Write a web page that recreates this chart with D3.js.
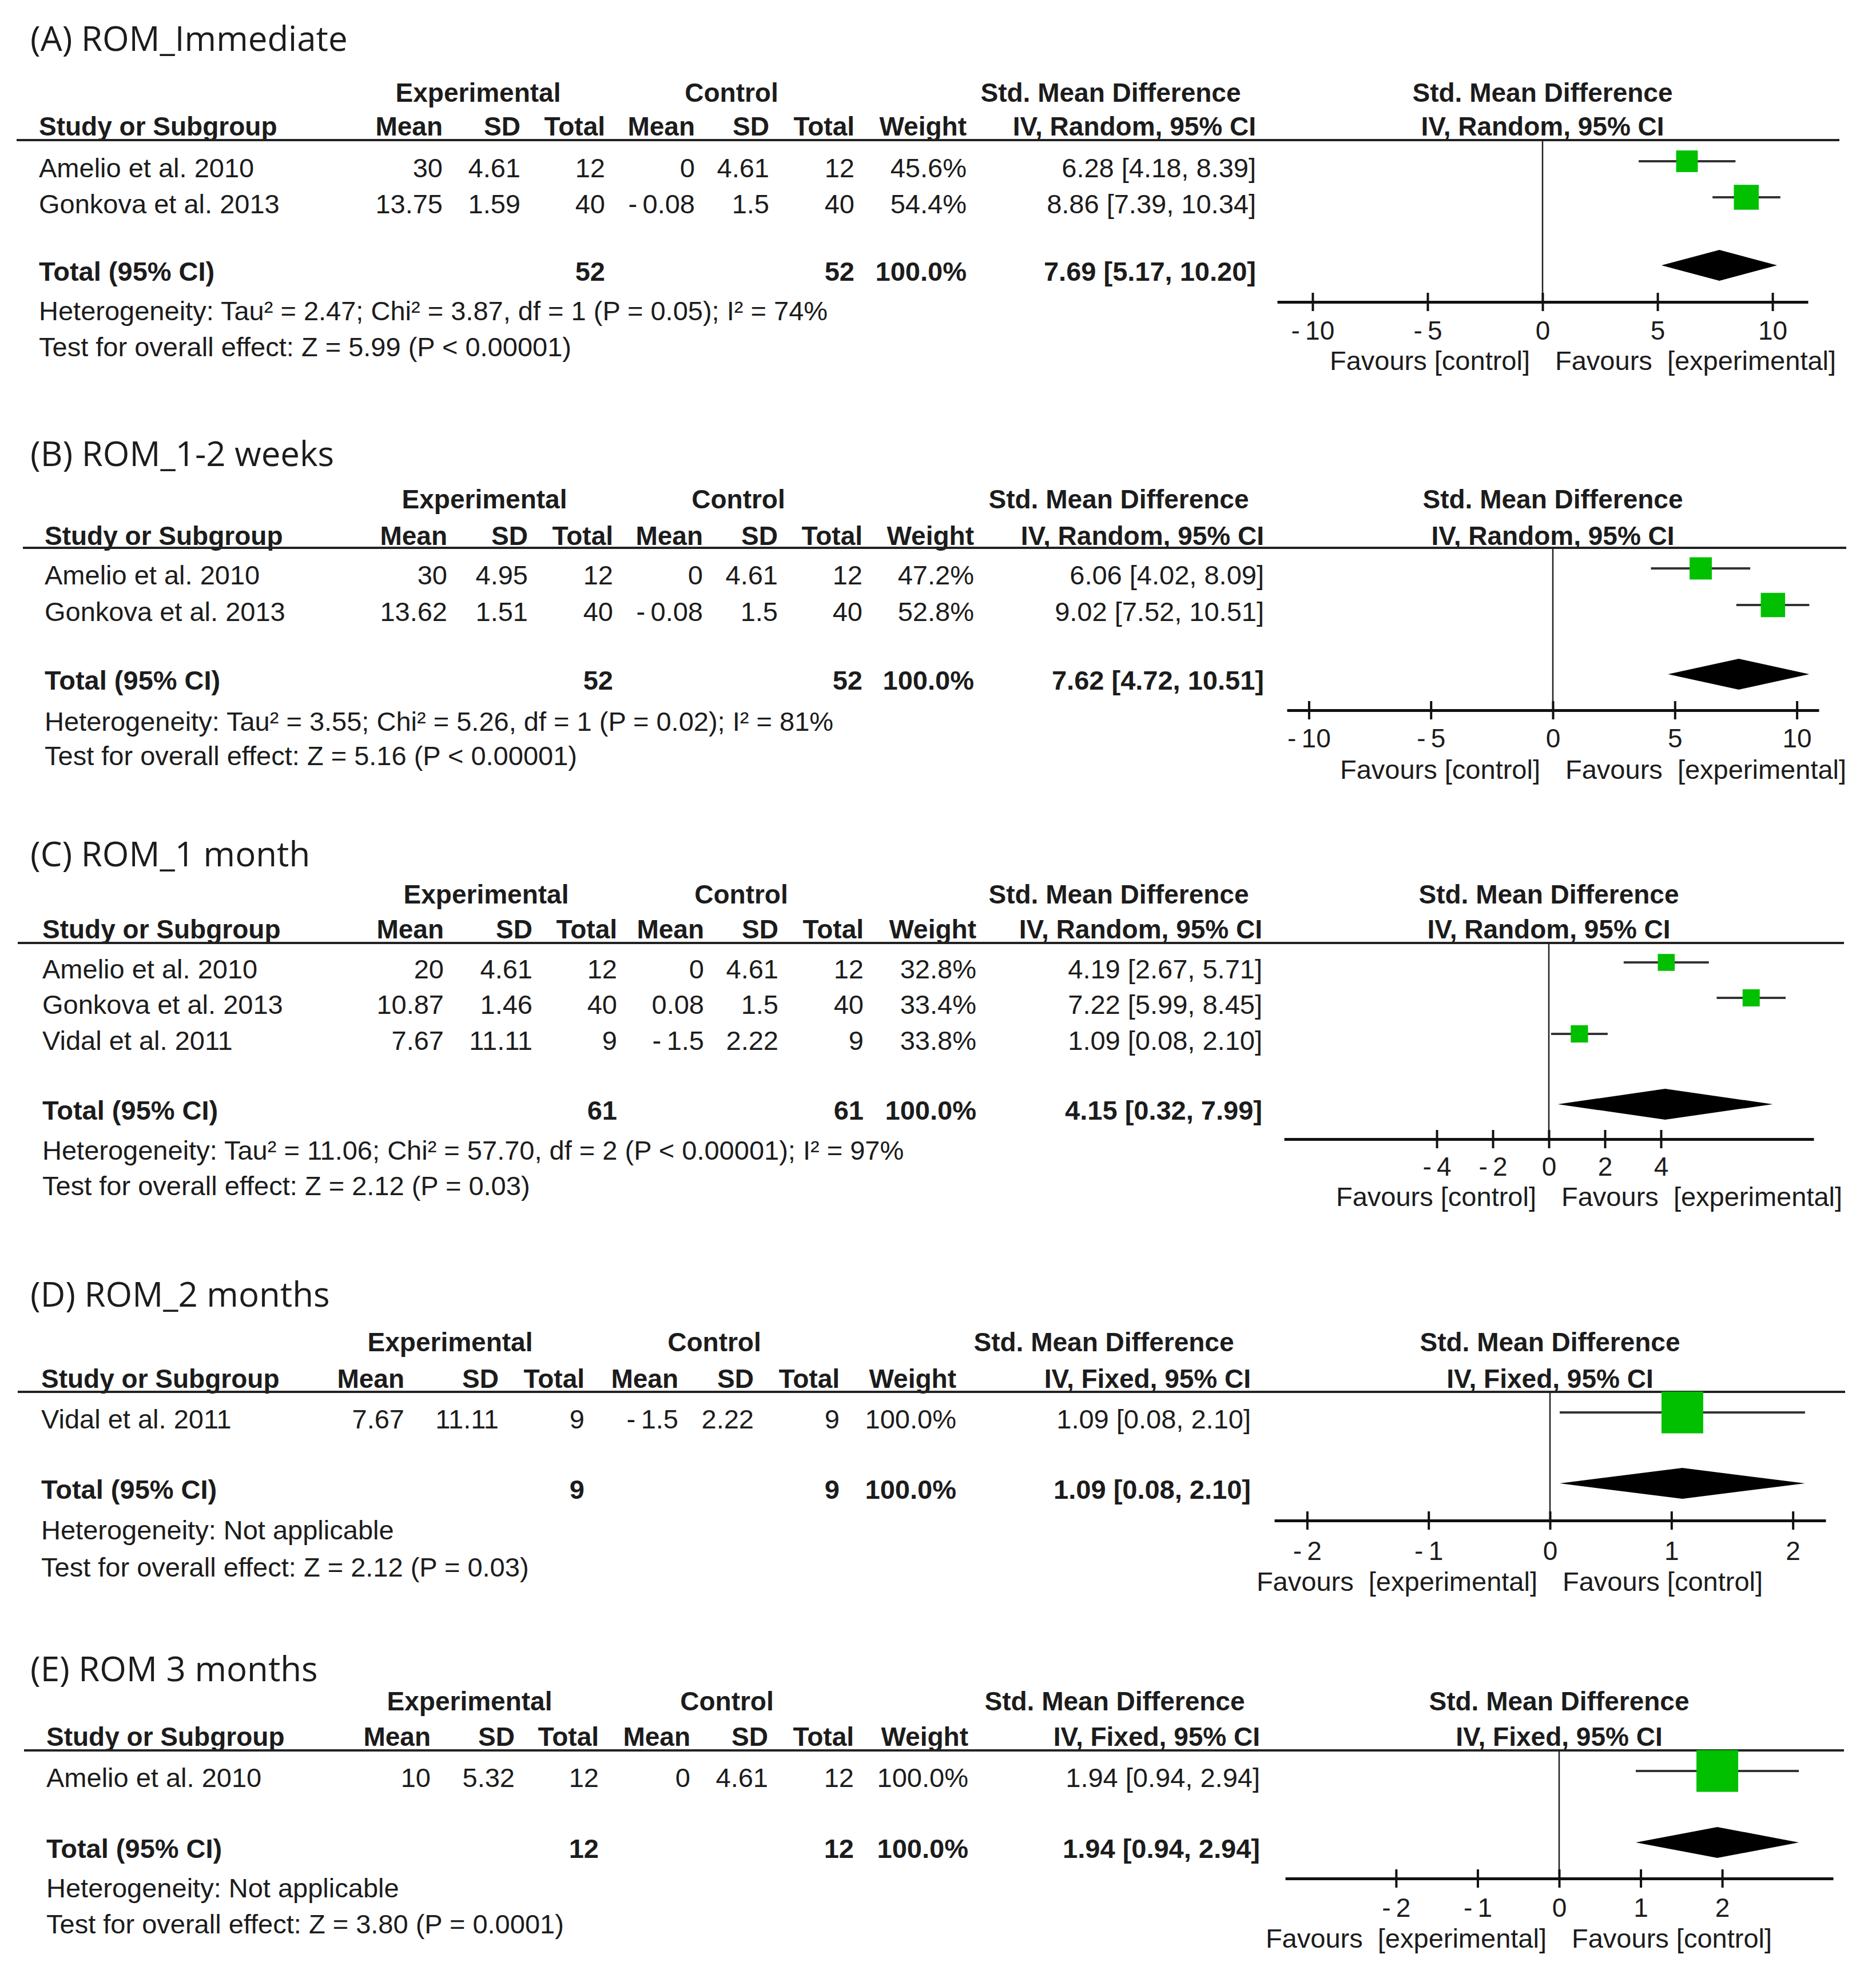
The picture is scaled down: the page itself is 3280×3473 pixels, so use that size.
<!DOCTYPE html>
<html>
<head>
<meta charset="utf-8">
<script src="https://cdn.jsdelivr.net/npm/d3@7/dist/d3.min.js"></script>
<style>
  html, body { margin: 0; padding: 0; background: #ffffff; }
  svg { display: block; }
  text { white-space: pre; }
</style>
</head>
<body>
<script>
// ---------------- DATA ----------------
const panelTitles = ["(A) ROM_Immediate", "(B) ROM_1-2 weeks", "(C) ROM_1 month", "(D) ROM_2 months", "(E) ROM 3 months"];
const studies = [
  ["Amelio et al. 2010", "Gonkova et al. 2013"],
  ["Amelio et al. 2010", "Gonkova et al. 2013"],
  ["Amelio et al. 2010", "Gonkova et al. 2013", "Vidal et al. 2011"],
  ["Vidal et al. 2011"],
  ["Amelio et al. 2010"]
];
const expMean = [[30, 13.75], [30, 13.62], [20, 10.87, 7.67], [7.67], [10]];
const expSD   = [[4.61, 1.59], [4.95, 1.51], [4.61, 1.46, 11.11], [11.11], [5.32]];
const expN    = [[12, 40], [12, 40], [12, 40, 9], [9], [12]];
const ctlMean = [[0, -0.08], [0, -0.08], [0, 0.08, -1.5], [-1.5], [0]];
const ctlSD   = [[4.61, 1.5], [4.61, 1.5], [4.61, 1.5, 2.22], [2.22], [4.61]];
const ctlN    = [[12, 40], [12, 40], [12, 40, 9], [9], [12]];
const weights = [[45.6, 54.4], [47.2, 52.8], [32.8, 33.4, 33.8], [100.0], [100.0]];
const smd     = [[6.28, 8.86], [6.06, 9.02], [4.19, 7.22, 1.09], [1.09], [1.94]];
const ciLow   = [[4.18, 7.39], [4.02, 7.52], [2.67, 5.99, 0.08], [0.08], [0.94]];
const ciHigh  = [[8.39, 10.34], [8.09, 10.51], [5.71, 8.45, 2.10], [2.10], [2.94]];
const totalExpN = [52, 52, 61, 9, 12];
const totalCtlN = [52, 52, 61, 9, 12];
const totalWeight = [100.0, 100.0, 100.0, 100.0, 100.0];
const pooledSMD  = [7.69, 7.62, 4.15, 1.09, 1.94];
const pooledLow  = [5.17, 4.72, 0.32, 0.08, 0.94];
const pooledHigh = [10.20, 10.51, 7.99, 2.10, 2.94];
const methods = ["IV, Random, 95% CI", "IV, Random, 95% CI", "IV, Random, 95% CI", "IV, Fixed, 95% CI", "IV, Fixed, 95% CI"];
const heterogeneity = [
  "Heterogeneity: Tau² = 2.47; Chi² = 3.87, df = 1 (P = 0.05); I² = 74%",
  "Heterogeneity: Tau² = 3.55; Chi² = 5.26, df = 1 (P = 0.02); I² = 81%",
  "Heterogeneity: Tau² = 11.06; Chi² = 57.70, df = 2 (P < 0.00001); I² = 97%",
  "Heterogeneity: Not applicable",
  "Heterogeneity: Not applicable"
];
const overallEffect = [
  "Test for overall effect: Z = 5.99 (P < 0.00001)",
  "Test for overall effect: Z = 5.16 (P < 0.00001)",
  "Test for overall effect: Z = 2.12 (P = 0.03)",
  "Test for overall effect: Z = 2.12 (P = 0.03)",
  "Test for overall effect: Z = 3.80 (P = 0.0001)"
];
const axisTicks = [[-10, -5, 0, 5, 10], [-10, -5, 0, 5, 10], [-4, -2, 0, 2, 4], [-2, -1, 0, 1, 2], [-2, -1, 0, 1, 2]];
const axisExtent = [11.54, 10.9, 9.45, 2.27, 3.36];
const favoursLeft  = ["Favours [control]", "Favours [control]", "Favours [control]", "Favours  [experimental]", "Favours  [experimental]"];
const favoursRight = ["Favours  [experimental]", "Favours  [experimental]", "Favours  [experimental]", "Favours [control]", "Favours [control]"];
const groupLabels = ["Experimental", "Control", "Std. Mean Difference"];
const columnLabels = ["Mean", "SD", "Total", "Mean", "SD", "Total", "Weight"];

// ---------------- LAYOUT (pixel positions) ----------------
const layout = [
  { titleY: 89,  groupY: 178,  headY: 237,  lineY: 245,  rowsY: [310, 373],        totalY: 491,  hetY: 560,  testY: 623,
    axisY: 528,  tickY: 594,  favY: 647,  lineX: [29, 3216], studyX: 68,
    cols: [774, 910, 1058, 1215, 1345, 1494, 1690, 2196], groupX: [836, 1279, 1942], plotX: [2233, 3161] },
  { titleY: 815, groupY: 889,  headY: 953,  lineY: 958,  rowsY: [1022, 1086],      totalY: 1206, hetY: 1278, testY: 1338,
    axisY: 1242, tickY: 1307, favY: 1362, lineX: [40, 3228], studyX: 78,
    cols: [782, 923, 1072, 1229, 1360, 1508, 1703, 2210], groupX: [847, 1291, 1956], plotX: [2250, 3180] },
  { titleY: 1515, groupY: 1580, headY: 1641, lineY: 1649, rowsY: [1711, 1773, 1836], totalY: 1958, hetY: 2028, testY: 2090,
    axisY: 1992, tickY: 2056, favY: 2109, lineX: [31, 3224], studyX: 74,
    cols: [776, 931, 1079, 1231, 1361, 1510, 1707, 2207], groupX: [850, 1296, 1956], plotX: [2245, 3171] },
  { titleY: 2285, groupY: 2363, headY: 2427, lineY: 2434, rowsY: [2498],             totalY: 2621, hetY: 2692, testY: 2757,
    axisY: 2659, tickY: 2728, favY: 2782, lineX: [31, 3226], studyX: 72,
    cols: [707, 872, 1022, 1186, 1318, 1468, 1672, 2187], groupX: [787, 1249, 1930], plotX: [2228, 3192] },
  { titleY: 2940, groupY: 2991, headY: 3053, lineY: 3061, rowsY: [3125],             totalY: 3249, hetY: 3318, testY: 3381,
    axisY: 3285, tickY: 3352, favY: 3406, lineX: [42, 3224], studyX: 81,
    cols: [753, 900, 1047, 1207, 1343, 1493, 1693, 2203], groupX: [821, 1271, 1949], plotX: [2247, 3205] }
];

const W = 3280, H = 3473;
const FONT = "'Liberation Sans', Arial, Helvetica, sans-serif";
const TITLE_FONT = "'Open Sans', 'Noto Sans', sans-serif";
const TEXT = "#1c1c1c";
const GREEN = "#00c000";
const BODY_SIZE = 47, HEAD_SIZE = 46, TICK_SIZE = 46, TITLE_SIZE = 60;

const f2 = d3.format(".2f"), f1 = d3.format(".1f");
const num = v => (v < 0 ? "-\u2009" + String(Math.abs(v)) : String(v));
const ci = (e, lo, hi) => `${f2(e)} [${f2(lo)}, ${f2(hi)}]`;
const tickFmt = v => (v < 0 ? "-\u2009" + Math.abs(v) : String(v));
const boxSize = d3.scaleLinear().domain([0, 100]).range([8.4, 73]);

const svg = d3.select("body").append("svg").attr("width", W).attr("height", H)
  .attr("viewBox", `0 0 ${W} ${H}`);
svg.append("rect").attr("width", W).attr("height", H).attr("fill", "#ffffff");

function txt(g, x, y, s, opts = {}) {
  return g.append("text")
    .attr("x", x).attr("y", y)
    .attr("text-anchor", opts.anchor || "start")
    .attr("font-family", opts.family || FONT)
    .attr("font-size", opts.size || BODY_SIZE)
    .attr("font-weight", opts.bold ? "bold" : "normal")
    .attr("fill", TEXT)
    .text(s);
}

panelTitles.forEach((title, i) => {
  const L = layout[i];
  const g = svg.append("g").attr("class", "panel");
  const x = d3.scaleLinear().domain([-axisExtent[i], axisExtent[i]]).range(L.plotX);
  const plotCenter = (L.plotX[0] + L.plotX[1]) / 2;

  // title
  txt(g, 53, L.titleY, title, { family: TITLE_FONT, size: TITLE_SIZE });

  // group headers
  txt(g, L.groupX[0], L.groupY, groupLabels[0], { anchor: "middle", bold: true, size: HEAD_SIZE });
  txt(g, L.groupX[1], L.groupY, groupLabels[1], { anchor: "middle", bold: true, size: HEAD_SIZE });
  txt(g, L.groupX[2], L.groupY, groupLabels[2], { anchor: "middle", bold: true, size: HEAD_SIZE });
  txt(g, plotCenter, L.groupY, groupLabels[2], { anchor: "middle", bold: true, size: HEAD_SIZE });

  // column headers
  txt(g, L.studyX, L.headY, "Study or Subgroup", { bold: true, size: HEAD_SIZE });
  columnLabels.forEach((c, k) => txt(g, L.cols[k], L.headY, c, { anchor: "end", bold: true, size: HEAD_SIZE }));
  txt(g, L.cols[7], L.headY, methods[i], { anchor: "end", bold: true, size: HEAD_SIZE });
  txt(g, plotCenter, L.headY, methods[i], { anchor: "middle", bold: true, size: HEAD_SIZE });

  // header rule
  g.append("line").attr("x1", L.lineX[0]).attr("x2", L.lineX[1])
    .attr("y1", L.lineY).attr("y2", L.lineY)
    .attr("stroke", "#222").attr("stroke-width", 4);

  // zero line
  g.append("line").attr("x1", x(0)).attr("x2", x(0))
    .attr("y1", L.lineY).attr("y2", L.axisY)
    .attr("stroke", "#222").attr("stroke-width", 2.5);

  // study rows
  studies[i].forEach((s, r) => {
    const y = L.rowsY[r];
    txt(g, L.studyX, y, s);
    const vals = [num(expMean[i][r]), num(expSD[i][r]), String(expN[i][r]),
                  num(ctlMean[i][r]), num(ctlSD[i][r]), String(ctlN[i][r]),
                  f1(weights[i][r]) + "%", ci(smd[i][r], ciLow[i][r], ciHigh[i][r])];
    vals.forEach((v, k) => txt(g, L.cols[k], y, v, { anchor: "end" }));

    const my = y - 28;
    g.append("line").attr("x1", x(ciLow[i][r])).attr("x2", x(ciHigh[i][r]))
      .attr("y1", my).attr("y2", my).attr("stroke", "#333").attr("stroke-width", 4);
    const b = boxSize(weights[i][r]);
    g.append("rect").attr("x", x(smd[i][r]) - b / 2).attr("y", my - b / 2)
      .attr("width", b).attr("height", b).attr("fill", GREEN);
  });

  // total row
  txt(g, L.studyX, L.totalY, "Total (95% CI)", { bold: true });
  txt(g, L.cols[2], L.totalY, String(totalExpN[i]), { anchor: "end", bold: true });
  txt(g, L.cols[5], L.totalY, String(totalCtlN[i]), { anchor: "end", bold: true });
  txt(g, L.cols[6], L.totalY, f1(totalWeight[i]) + "%", { anchor: "end", bold: true });
  txt(g, L.cols[7], L.totalY, ci(pooledSMD[i], pooledLow[i], pooledHigh[i]), { anchor: "end", bold: true });

  const dy = L.totalY - 27, hh = 27;
  g.append("path")
    .attr("d", `M${x(pooledLow[i])},${dy} L${x(pooledSMD[i])},${dy - hh} L${x(pooledHigh[i])},${dy} L${x(pooledSMD[i])},${dy + hh} Z`)
    .attr("fill", "#000");

  // notes
  txt(g, L.studyX, L.hetY, heterogeneity[i]);
  txt(g, L.studyX, L.testY, overallEffect[i]);

  // axis
  const axis = d3.axisBottom(x).tickValues(axisTicks[i]).tickSizeOuter(0).tickSizeInner(16)
    .tickPadding(0).tickFormat(tickFmt);
  const ag = g.append("g").attr("transform", `translate(0,${L.axisY})`).call(axis);
  ag.attr("font-size", null).attr("font-family", null);
  ag.select(".domain").attr("stroke", "#111").attr("stroke-width", 5);
  ag.selectAll(".tick line").attr("y1", -16).attr("y2", 16).attr("stroke", "#111").attr("stroke-width", 4);
  ag.selectAll(".tick text").attr("y", L.tickY - L.axisY).attr("dy", null)
    .attr("font-size", TICK_SIZE).attr("font-family", FONT).attr("fill", TEXT);

  // favours labels
  txt(g, x(0) - 22, L.favY, favoursLeft[i], { anchor: "end" });
  txt(g, x(0) + 22, L.favY, favoursRight[i], { anchor: "start" });
});
</script>
</body>
</html>
